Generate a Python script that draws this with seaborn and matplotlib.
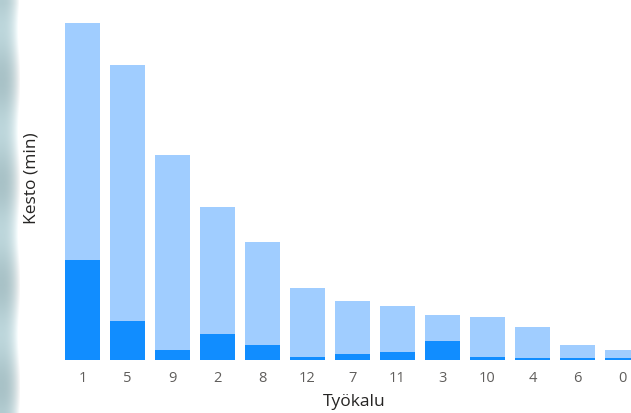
import numpy as np
import pandas as pd
import matplotlib
matplotlib.use("Agg")
import matplotlib.pyplot as plt
import seaborn as sns

sns.set_theme(style="white")
plt.rcParams['font.family'] = ['Open Sans', 'DejaVu Sans']

tools = ["1", "5", "9", "2", "8", "12", "7", "11", "3", "10", "4", "6", "0"]
total_min = [337, 295, 205, 153, 118, 72, 59, 54, 45, 43, 33, 15, 10]
dark_min = [100, 39, 10, 26, 15, 3, 6, 8, 19, 3, 2, 2, 2]

df = pd.DataFrame({"Työkalu": tools, "total": total_min, "dark": dark_min})

W, H = 631, 413
fig = plt.figure(figsize=(W / 100, H / 100), dpi=100)

# blurred background strip on the left edge
bg = fig.add_axes([0, 0, 20 / W, 1])
grad = np.linspace(0, 1, 20)[None, :]
rows = np.linspace(0, 1, 60)[:, None]
base = np.array([0.70, 0.80, 0.82])
img = np.zeros((60, 20, 3))
for c in range(3):
    img[:, :, c] = base[c] + (1 - base[c]) * grad ** 2.5 + 0.04 * np.sin(rows * 25)
img = np.clip(img, 0, 1)
bg.imshow(img, aspect="auto", interpolation="bilinear")
bg.axis("off")

left_px, right_px = 60, 631
top_px, bottom_px = 20, 360
ax = fig.add_axes([left_px / W, (H - bottom_px) / H,
                   (right_px - left_px) / W, (bottom_px - top_px) / H])

sns.barplot(data=df, x="Työkalu", y="total", color="#a0cdff", width=0.78,
            saturation=1, ax=ax, order=tools, linewidth=0)
sns.barplot(data=df, x="Työkalu", y="dark", color="#118dff", width=0.78,
            saturation=1, ax=ax, order=tools, linewidth=0)

ax.set_xlim(-0.5, (right_px - 82.5) / 45)
ax.set_ylim(0, bottom_px - top_px)
ax.set_yticks([])
for s in ax.spines.values():
    s.set_visible(False)
ax.tick_params(axis="x", length=0, pad=8, labelsize=10.5, labelcolor="#605e5c")
ax.set_xlabel("Työkalu", fontsize=12.5, color="#252423")
ax.set_ylabel("Kesto (min)", fontsize=12.5, color="#252423")
ax.xaxis.set_label_coords((354 - left_px) / (right_px - left_px), -(402 - bottom_px) / (bottom_px - top_px))
ax.xaxis.label.set_va("center")
ax.yaxis.set_label_coords(-(left_px - 31) / (right_px - left_px), (bottom_px - 178) / (bottom_px - top_px))
ax.yaxis.label.set_va("center")

fig.savefig("out.png", dpi=100)
